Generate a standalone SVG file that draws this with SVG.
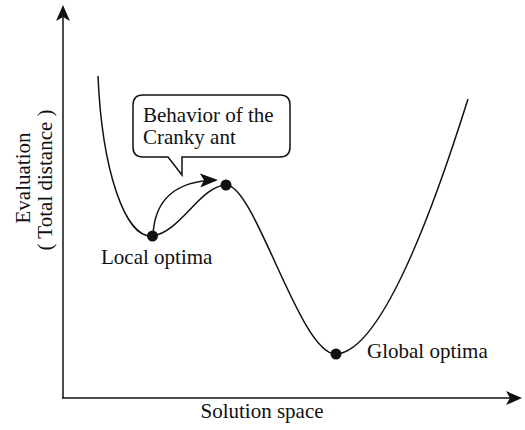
<svg xmlns="http://www.w3.org/2000/svg" width="525" height="430" viewBox="0 0 525 430">
  <style>
    .label { font-family: "Liberation Serif", "Times New Roman", serif; font-size: 21px; fill: #111; }
    .line { fill: none; stroke: #111; stroke-width: 1.5; }
    .dot { fill: #111; }
  </style>
  <defs>
    <marker id="axisHead" markerWidth="16" markerHeight="14" refX="14" refY="7" orient="auto" markerUnits="userSpaceOnUse">
      <path d="M0,0 L16,7 L0,14 L4,7 Z" fill="#111"/>
    </marker>
    <marker id="moveHead" markerWidth="18" markerHeight="14" refX="16" refY="7" orient="auto" markerUnits="userSpaceOnUse">
      <path d="M0,0 L18,7 L0,14 L4,7 Z" fill="#111"/>
    </marker>
  </defs>

  <rect width="525" height="430" fill="#fff"/>

  <!-- axes -->
  <g id="axes">
    <path class="line" d="M63,398 V7" marker-end="url(#axisHead)"/>
    <path class="line" d="M62,398 H520" marker-end="url(#axisHead)"/>
    <text class="label" x="262" y="418" text-anchor="middle">Solution space</text>
    <text class="label" transform="translate(30,178) rotate(-90)" text-anchor="middle">Evaluation</text>
    <text class="label" transform="translate(52,180) rotate(-90)" text-anchor="middle">( Total distance )</text>
  </g>

  <!-- connectors: evaluation curve and the ant's jump -->
  <g id="connectors">
    <path class="line" d="M98,76 C102,170 125,238 152,236 C180,233 200,186 226,185 C255,184 300,355 336,354 C380,352 430,220 468,99"/>
    <path class="line" d="M153,235 C155,195 180,181 216,180" marker-end="url(#moveHead)"/>
  </g>

  <g id="local-optima">
    <circle class="dot" cx="152.5" cy="236" r="5.5"/>
    <text class="label" x="101" y="264">Local optima</text>
  </g>

  <g id="peak">
    <circle class="dot" cx="226" cy="185" r="5.5"/>
  </g>

  <g id="global-optima">
    <circle class="dot" cx="336" cy="354" r="5.5"/>
    <text class="label" x="367" y="358">Global optima</text>
  </g>

  <g id="callout">
    <path class="line" d="M143,95 H280 Q290,95 290,105 V147 Q290,157 280,157 H182 V175 L168,157 H143 Q133,157 133,147 V105 Q133,95 143,95 Z" fill="#fff"/>
    <text class="label" x="143" y="122">Behavior of the</text>
    <text class="label" x="143" y="144">Cranky ant</text>
  </g>
</svg>
